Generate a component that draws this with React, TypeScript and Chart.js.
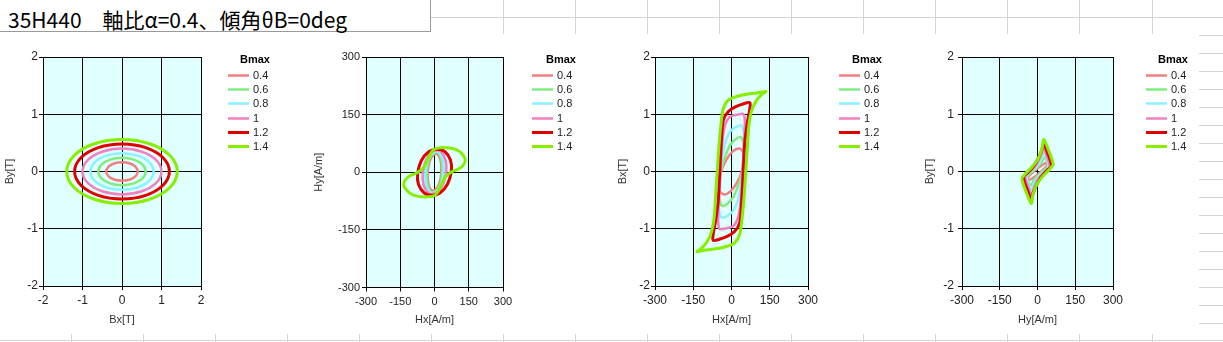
import React, { useEffect, useRef } from 'react';
import { Chart, registerables } from 'chart.js';

Chart.register(...registerables);

// ---------------- Data ----------------
const bmaxLabels = ['0.4', '0.6', '0.8', '1', '1.2', '1.4'];
const bTicks = [-2, -1, 0, 1, 2];
const hTicks = [-300, -150, 0, 150, 300];

type P = [number, number];

// Chart 1: Bx[T] vs By[T]
const bxBy04: P[] = [[0.4, 0], [0.346, 0.08], [0.2, 0.139], [0, 0.16], [-0.2, 0.139], [-0.346, 0.08], [-0.4, 0], [-0.346, -0.08], [-0.2, -0.139], [0, -0.16], [0.2, -0.139], [0.346, -0.08]];
const bxBy06: P[] = [[0.6, 0], [0.52, 0.12], [0.3, 0.208], [0, 0.24], [-0.3, 0.208], [-0.52, 0.12], [-0.6, 0], [-0.52, -0.12], [-0.3, -0.208], [0, -0.24], [0.3, -0.208], [0.52, -0.12]];
const bxBy08: P[] = [[0.8, 0], [0.693, 0.16], [0.4, 0.277], [0, 0.32], [-0.4, 0.277], [-0.693, 0.16], [-0.8, 0], [-0.693, -0.16], [-0.4, -0.277], [0, -0.32], [0.4, -0.277], [0.693, -0.16]];
const bxBy10: P[] = [[1.0, 0], [0.866, 0.2], [0.5, 0.346], [0, 0.4], [-0.5, 0.346], [-0.866, 0.2], [-1.0, 0], [-0.866, -0.2], [-0.5, -0.346], [0, -0.4], [0.5, -0.346], [0.866, -0.2]];
const bxBy12: P[] = [[1.2, 0], [1.039, 0.24], [0.6, 0.416], [0, 0.48], [-0.6, 0.416], [-1.039, 0.24], [-1.2, 0], [-1.039, -0.24], [-0.6, -0.416], [0, -0.48], [0.6, -0.416], [1.039, -0.24]];
const bxBy14: P[] = [[1.4, 0], [1.212, 0.28], [0.7, 0.485], [0, 0.56], [-0.7, 0.485], [-1.212, 0.28], [-1.4, 0], [-1.212, -0.28], [-0.7, -0.485], [0, -0.56], [0.7, -0.485], [1.212, -0.28]];

// Chart 2: Hx[A/m] vs Hy[A/m]
const hxHy04: P[] = [[10, 48], [24, 36], [30, 12], [26, -18], [12, -40], [-10, -48], [-24, -36], [-30, -12], [-26, 18], [-12, 40]];
const hxHy06: P[] = [[12, 52], [28, 38], [34, 12], [30, -20], [14, -44], [-12, -52], [-28, -38], [-34, -12], [-30, 20], [-14, 44]];
const hxHy08: P[] = [[14, 54], [32, 40], [40, 14], [35, -20], [16, -46], [-14, -54], [-32, -40], [-40, -14], [-35, 20], [-16, 46]];
const hxHy10: P[] = [[16, 57], [40, 44], [52, 18], [46, -16], [20, -48], [-16, -57], [-40, -44], [-52, -18], [-46, 16], [-20, 48]];
const hxHy12: P[] = [[12, 60], [45, 54], [70, 32], [74, 4], [58, -30], [24, -54], [-12, -60], [-45, -54], [-70, -32], [-74, -4], [-58, 30], [-24, 54]];
const hxHy14: P[] = [[-5, 58], [25, 64], [90, 60], [126, 44], [134, 28], [115, 12], [78, 2], [48, -12], [28, -36], [5, -58], [-25, -64], [-90, -60], [-126, -44], [-134, -28], [-115, -12], [-78, -2], [-48, 12], [-28, 36]];

// Chart 3: Hx[A/m] vs Bx[T]
const hxBx04: P[] = [[29, 0.4], [4, 0.346], [-21, 0.2], [-41, 0], [-50, -0.2], [-45, -0.346], [-29, -0.4], [-4, -0.346], [21, -0.2], [41, 0], [50, 0.2], [45, 0.346]];
const hxBx06: P[] = [[38, 0.6], [15, 0.56], [-8, 0.44], [-28, 0.22], [-42, 0], [-48, -0.25], [-48, -0.45], [-38, -0.6], [-15, -0.56], [8, -0.44], [28, -0.22], [42, 0], [48, 0.25], [48, 0.45]];
const hxBx08: P[] = [[40, 0.8], [15, 0.77], [-8, 0.68], [-26, 0.49], [-38, 0.2], [-43, 0], [-47, -0.3], [-50, -0.6], [-40, -0.8], [-15, -0.77], [8, -0.68], [26, -0.49], [38, -0.2], [43, 0], [47, 0.3], [50, 0.6]];
const hxBx10: P[] = [[48, 1.0], [20, 0.99], [-8, 0.95], [-27, 0.78], [-38, 0.43], [-43, 0], [-48, -0.4], [-52, -0.75], [-48, -1.0], [-20, -0.99], [8, -0.95], [27, -0.78], [38, -0.43], [43, 0], [48, 0.4], [52, 0.75]];
const hxBx12: P[] = [[72, 1.2], [45, 1.18], [15, 1.13], [-12, 1.05], [-32, 0.9], [-40, 0.5], [-46, 0], [-52, -0.5], [-62, -0.85], [-70, -1.05], [-72, -1.2], [-45, -1.18], [-15, -1.13], [12, -1.05], [32, -0.9], [40, -0.5], [46, 0], [52, 0.5], [62, 0.85], [70, 1.05]];
const hxBx14: P[] = [[135, 1.4], [100, 1.37], [60, 1.35], [20, 1.31], [-12, 1.25], [-32, 1.1], [-42, 0.8], [-50, 0.4], [-56, 0], [-62, -0.4], [-68, -0.8], [-78, -1.05], [-95, -1.22], [-115, -1.33], [-135, -1.4], [-100, -1.37], [-60, -1.35], [-20, -1.31], [12, -1.25], [32, -1.1], [42, -0.8], [50, -0.4], [56, 0], [62, 0.4], [68, 0.8], [78, 1.05], [95, 1.22], [115, 1.33]];

// Chart 4: Hy[A/m] vs By[T]
const hyBy04: P[] = [[45, 0.15], [39, 0.158], [22, 0.123], [0, 0.055], [-22, -0.028], [-39, -0.103], [-45, -0.15], [-39, -0.158], [-22, -0.123], [0, -0.055], [22, 0.028], [39, 0.103]];
const hyBy06: P[] = [[26, 0.24], [40, 0.16], [42, 0.1], [28, 0.03], [5, -0.06], [-15, -0.15], [-26, -0.24], [-40, -0.16], [-42, -0.1], [-28, -0.03], [-5, 0.06], [15, 0.15]];
const hyBy08: P[] = [[24, 0.32], [38, 0.2], [44, 0.1], [34, 0.03], [10, -0.06], [-10, -0.17], [-24, -0.32], [-38, -0.2], [-44, -0.1], [-34, -0.03], [-10, 0.06], [10, 0.17]];
const hyBy10: P[] = [[24, 0.4], [38, 0.25], [48, 0.12], [44, 0.05], [24, -0.03], [4, -0.12], [-12, -0.26], [-24, -0.4], [-38, -0.25], [-48, -0.12], [-44, -0.05], [-24, 0.03], [-4, 0.12], [12, 0.26]];
const hyBy12: P[] = [[25, 0.48], [42, 0.3], [54, 0.15], [54, 0.08], [38, 0.02], [14, -0.1], [-4, -0.24], [-16, -0.36], [-25, -0.48], [-42, -0.3], [-54, -0.15], [-54, -0.08], [-38, -0.02], [-14, 0.1], [4, 0.24], [16, 0.36]];
const hyBy14: P[] = [[25, 0.56], [45, 0.36], [58, 0.2], [62, 0.12], [50, 0.05], [22, -0.08], [-2, -0.22], [-18, -0.4], [-25, -0.56], [-45, -0.36], [-58, -0.2], [-62, -0.12], [-50, -0.05], [-22, 0.08], [2, 0.22], [18, 0.4]];

const bxByLoops = [bxBy04, bxBy06, bxBy08, bxBy10, bxBy12, bxBy14];
const hxHyLoops = [hxHy04, hxHy06, hxHy08, hxHy10, hxHy12, hxHy14];
const hxBxLoops = [hxBx04, hxBx06, hxBx08, hxBx10, hxBx12, hxBx14];
const hyByLoops = [hyBy04, hyBy06, hyBy08, hyBy10, hyBy12, hyBy14];

// ---------------- Styles ----------------
const seriesColors = ['#F08080', '#80EC80', '#88F2FF', '#F080C0', '#E00000', '#88EE00'];
const seriesWidths = [2.5, 2.5, 2.5, 2.5, 3, 3];
const PLOT_BG = '#E0FFFF';
const TEXT = '#222';

interface Spec {
  left: number; width: number; loops: P[][];
  xTicks: number[]; yTicks: number[];
  xTitle: string; yTitle: string;
  plotLeft: number; plotRight: number; plotBottom: number;
  yTitleX: number; legendX: number; legendTitleX: number;
  tickSize: number; tension: number; xPad: number; yPad: number;
}

const specs: Spec[] = [
  { left: 0, width: 300, loops: bxByLoops, xTicks: bTicks, yTicks: bTicks, xTitle: 'Bx[T]', yTitle: 'By[T]', plotLeft: 43, plotRight: 201, plotBottom: 252, yTitleX: 10, legendX: 228, legendTitleX: 255, tickSize: 12, tension: 0.35, xPad: 3, yPad: 1 },
  { left: 300, width: 300, loops: hxHyLoops, xTicks: hTicks, yTicks: hTicks, xTitle: 'Hx[A/m]', yTitle: 'Hy[A/m]', plotLeft: 66, plotRight: 203, plotBottom: 253.5, yTitleX: 19, legendX: 232, legendTitleX: 261, tickSize: 11, tension: 0.35, xPad: 3.5, yPad: 2 },
  { left: 600, width: 300, loops: hxBxLoops, xTicks: hTicks, yTicks: bTicks, xTitle: 'Hx[A/m]', yTitle: 'Bx[T]', plotLeft: 55, plotRight: 208, plotBottom: 252, yTitleX: 23, legendX: 239, legendTitleX: 267, tickSize: 12, tension: 0.3, xPad: 3, yPad: 1 },
  { left: 900, width: 299, loops: hyByLoops, xTicks: hTicks, yTicks: bTicks, xTitle: 'Hy[A/m]', yTitle: 'By[T]', plotLeft: 62, plotRight: 213, plotBottom: 252, yTitleX: 30, legendX: 246, legendTitleX: 273, tickSize: 12, tension: 0.3, xPad: 3, yPad: 4 },
];

const PLOT_TOP = 23;
const CHART_H = 300;

const closedLoopPlugin = {
  id: 'closedLoops',
  afterDatasetsUpdate(chart: any) {
    chart.data.datasets.forEach((_: any, i: number) => {
      const line: any = chart.getDatasetMeta(i).dataset;
      if (line) {
        line._loop = true;
        line._fullLoop = true;
        line._pointsUpdated = false;
        delete line._segments;
        line._path = undefined;
      }
    });
  },
};

const plotBgPlugin = {
  id: 'plotBg',
  beforeDatasetsDraw(chart: any) {},
  beforeDraw(chart: any) {
    const { ctx, chartArea: a } = chart;
    ctx.save();
    ctx.fillStyle = PLOT_BG;
    ctx.fillRect(a.left, a.top, a.right - a.left, a.bottom - a.top);
    ctx.restore();
  },
};

function LoopChart({ spec }: { spec: Spec }) {
  const ref = useRef<HTMLCanvasElement>(null);
  useEffect(() => {
    const s = spec;
    const legendPlugin = {
      id: 'sideLegend',
      afterDraw(chart: any) {
        const ctx = chart.ctx;
        ctx.save();
        ctx.fillStyle = '#000';
        ctx.font = 'bold 11px "Liberation Sans", Arial, sans-serif';
        ctx.textAlign = 'center';
        ctx.textBaseline = 'middle';
        ctx.fillText('Bmax', s.legendTitleX, 25.5);
        ctx.font = '11px "Liberation Sans", Arial, sans-serif';
        ctx.textAlign = 'left';
        chart.data.datasets.forEach((ds: any, i: number) => {
          const y = Math.round(41 + i * 14.2) + 0.5;
          ctx.strokeStyle = ds.borderColor;
          ctx.lineWidth = ds.borderWidth;
          ctx.beginPath();
          ctx.moveTo(s.legendX, y);
          ctx.lineTo(s.legendX + 21, y);
          ctx.stroke();
          ctx.fillStyle = TEXT;
          ctx.fillText(ds.label, s.legendX + 25, y + 0.5);
        });
        ctx.restore();
      },
    };
    const tickFont = { family: '"Liberation Sans", Arial, sans-serif', size: s.tickSize };
    const titleFont = { family: '"Liberation Sans", Arial, sans-serif', size: 11 };
    const chart = new Chart(ref.current as HTMLCanvasElement, {
      type: 'scatter',
      data: {
        datasets: s.loops.map((pts, i) => ({
          label: bmaxLabels[i],
          data: pts.map(([x, y]) => ({ x, y })),
          borderColor: seriesColors[i],
          backgroundColor: seriesColors[i],
          borderWidth: seriesWidths[i],
          showLine: true,
          pointRadius: 0,
          pointHoverRadius: 0,
          tension: s.tension,
          fill: false,
          borderJoinStyle: 'round',
          order: -i,
        })) as any,
      },
      options: {
        responsive: false,
        animation: false,
        events: [],
        layout: { padding: { left: 0, top: PLOT_TOP, right: s.width - s.plotRight, bottom: 0 } },
        plugins: { legend: { display: false }, tooltip: { enabled: false } },
        scales: {
          x: {
            type: 'linear',
            min: s.xTicks[0],
            max: s.xTicks[s.xTicks.length - 1],
            afterBuildTicks: (sc: any) => { sc.ticks = s.xTicks.map((v) => ({ value: v })); },
            afterFit: (sc: any) => { sc.height = CHART_H - s.plotBottom; },
            ticks: { font: tickFont, color: TEXT, padding: s.xPad, maxRotation: 0, autoSkip: false },
            grid: { color: '#000', lineWidth: 1, tickLength: 4, drawTicks: true, tickColor: '#000' },
            border: { display: true, color: '#000', width: 1 },
            title: { display: true, text: s.xTitle, font: titleFont, color: '#333', padding: { top: 0, bottom: 7.4 } },
          },
          y: {
            type: 'linear',
            min: s.yTicks[0],
            max: s.yTicks[s.yTicks.length - 1],
            afterBuildTicks: (sc: any) => { sc.ticks = s.yTicks.map((v) => ({ value: v })); },
            afterFit: (sc: any) => { sc.width = s.plotLeft; },
            ticks: { font: tickFont, color: TEXT, padding: s.yPad, autoSkip: false },
            grid: { color: '#000', lineWidth: 1, tickLength: 4, drawTicks: true, tickColor: '#000' },
            border: { display: true, color: '#000', width: 1 },
            title: { display: true, text: s.yTitle, font: titleFont, color: '#333', padding: { top: s.yTitleX - 6.6, bottom: 0 } },
          },
        },
      } as any,
      plugins: [plotBgPlugin, closedLoopPlugin, legendPlugin],
    });
    return () => chart.destroy();
  }, [spec]);
  return (
    <div style={{ position: 'absolute', left: spec.left, top: 34, width: spec.width, height: CHART_H, background: '#fff' }}>
      <canvas ref={ref} width={spec.width} height={CHART_H} style={{ display: 'block' }} />
    </div>
  );
}

const GRID = '#d4d4d4';
const colLines = [71, 143, 215, 287, 359, 431, 503, 575, 647, 719, 791, 863, 935, 1007, 1079, 1152];
const rowLinesRight = [35, 53, 71, 89, 107, 125, 143, 161, 179, 197, 215, 233, 251, 269, 287, 305, 323];

export default function App() {
  return (
    <div style={{ position: 'fixed', left: 0, top: 0, width: 1223, height: 342, background: '#fff', overflow: 'hidden' }}>
      {colLines.filter((x) => x > 431).map((x) => (
        <div key={'t' + x} style={{ position: 'absolute', left: x, top: 0, width: 1, height: 34, background: GRID }} />
      ))}
      {colLines.map((x) => (
        <div key={'b' + x} style={{ position: 'absolute', left: x, top: 334, width: 1, height: 8, background: GRID }} />
      ))}
      <div style={{ position: 'absolute', left: 431, top: 17, width: 792, height: 1, background: GRID }} />
      <div style={{ position: 'absolute', left: 0, top: 340, width: 1223, height: 1, background: GRID }} />
      {rowLinesRight.map((y) => (
        <div key={'r' + y} style={{ position: 'absolute', left: 1199, top: y, width: 24, height: 1, background: GRID }} />
      ))}
      <div style={{ position: 'absolute', left: 0, top: 0, width: 430, height: 31, borderRight: '1px solid #9a9a9a', borderBottom: '1px solid #9a9a9a', background: '#fff' }}>
        <span style={{ position: 'absolute', left: 8, top: 9, fontFamily: '"Noto Sans CJK JP", "Noto Sans", sans-serif', fontSize: 21, lineHeight: '21px', whiteSpace: 'nowrap', color: '#000' }}>
          35H440　軸比α=0.4、傾角θB=0deg
        </span>
      </div>
      {specs.map((s) => (
        <LoopChart key={s.left} spec={s} />
      ))}
    </div>
  );
}
